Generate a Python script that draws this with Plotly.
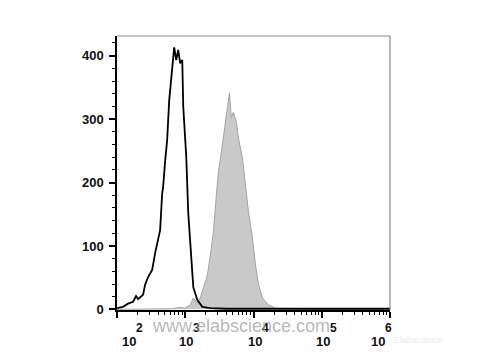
import plotly.graph_objects as go

# Black (control) histogram: log10 fluorescence vs count
ctrl_log = [2.000, 2.088, 2.162, 2.235, 2.279, 2.309, 2.382, 2.412, 2.456, 2.515,
            2.559, 2.603, 2.632, 2.662, 2.676, 2.706, 2.735, 2.765, 2.809, 2.838,
            2.868, 2.897, 2.926, 2.956, 2.971, 3.015, 3.044, 3.088, 3.118, 3.176,
            3.250, 3.368, 3.600, 4.000, 4.500, 5.000, 5.500, 6.000]
ctrl_cnt = [2, 4, 9, 12, 21, 16, 23, 39, 51, 62,
            89, 109, 125, 183, 193, 235, 267, 330, 377, 413,
            393, 409, 388, 393, 319, 240, 152, 78, 35, 15,
            4, 2, 1, 1, 1, 1, 1, 1]

# Gray (stained) histogram
stain_log = [2.000, 2.500, 2.800, 2.926, 3.000, 3.074, 3.118, 3.176, 3.221, 3.265,
             3.324, 3.368, 3.412, 3.456, 3.485, 3.529, 3.574, 3.618, 3.647, 3.676,
             3.706, 3.750, 3.779, 3.838, 3.882, 3.926, 3.985, 4.029, 4.074, 4.132,
             4.221, 4.324, 4.500, 5.000, 6.000]
stain_cnt = [0, 0, 1, 3, 2, 7, 18, 10, 18, 34,
             54, 86, 122, 180, 216, 248, 286, 317, 341, 302,
             311, 295, 270, 239, 196, 154, 113, 70, 39, 18,
             7, 2, 1, 0, 0]

y_ticks = [0, 100, 200, 300, 400]
x_tick_exp = [2, 3, 4, 5, 6]
x_tick_base = "10"

fig = go.Figure()
fig.add_trace(go.Scatter(
    x=[10 ** v for v in stain_log], y=stain_cnt, mode="lines",
    fill="tozeroy", fillcolor="#c9c9c9",
    line=dict(color="#a3a3a3", width=1), showlegend=False))
fig.add_trace(go.Scatter(
    x=[10 ** v for v in ctrl_log], y=ctrl_cnt, mode="lines",
    line=dict(color="#000000", width=1.8), showlegend=False))

minor_x = [k * 10 ** e for e in range(2, 6) for k in range(2, 10)]

# x tick labels drawn as annotations: base "10" plus a raised exponent
label_xshift = [12, 1, 1, 1, -12]
annotations = []
for e, dx in zip(x_tick_exp, label_xshift):
    annotations.append(dict(
        text="<b>%s</b>" % x_tick_base, x=e, xref="x", y=0, yref="paper",
        xanchor="center", yanchor="top", yshift=-22, xshift=dx,
        showarrow=False, font=dict(size=13, color="#111")))
    annotations.append(dict(
        text="<b>%d</b>" % e, x=e, xref="x", y=0, yref="paper",
        xanchor="left", yanchor="top", yshift=-9, xshift=dx + 5,
        showarrow=False, font=dict(size=12, color="#111")))

annotations += [
    dict(text="www.elabscience.com", xref="paper", yref="paper",
         x=0.454, y=-0.058, xanchor="center", yanchor="middle", showarrow=False,
         font=dict(size=18, color="rgba(160,160,160,0.75)")),
    dict(text="Elabscience", xref="paper", yref="paper",
         x=1.2, y=-0.135, showarrow=False,
         font=dict(size=9, color="#ececec")),
]

fig.update_layout(
    width=480, height=360,
    margin=dict(l=117, r=90, t=36, b=50),
    paper_bgcolor="white", plot_bgcolor="white",
    font=dict(family="Liberation Sans, Arial", color="black"),
    xaxis=dict(
        type="log", range=[2, 6],
        tickvals=[10 ** e for e in x_tick_exp], showticklabels=False,
        ticks="outside", ticklen=6, tickwidth=1.5, tickcolor="black",
        showline=True, linecolor="black", linewidth=1.5,
        showgrid=False, zeroline=False,
        minor=dict(tickvals=minor_x, ticks="outside", ticklen=3,
                   tickwidth=1.2, tickcolor="black", showgrid=False),
    ),
    yaxis=dict(
        range=[-1, 431],
        tickvals=y_ticks, ticktext=["<b>%d</b>" % v for v in y_ticks],
        tickfont=dict(size=13, color="#111"),
        ticks="outside", ticklen=6, tickwidth=1.5, tickcolor="black",
        ticklabelstandoff=3,
        showline=True, linecolor="black", linewidth=1.5,
        showgrid=False, zeroline=False,
        minor=dict(dtick=20, ticks="outside", ticklen=3,
                   tickwidth=1.2, tickcolor="black", showgrid=False),
    ),
    shapes=[
        dict(type="line", xref="paper", yref="paper", x0=0, x1=1, y0=1, y1=1,
             line=dict(color="#8a8a8a", width=1.2)),
        dict(type="line", xref="paper", yref="paper", x0=1, x1=1, y0=0, y1=1,
             line=dict(color="#8a8a8a", width=1.2)),
    ],
    annotations=annotations,
)

fig.write_html("out.html")
